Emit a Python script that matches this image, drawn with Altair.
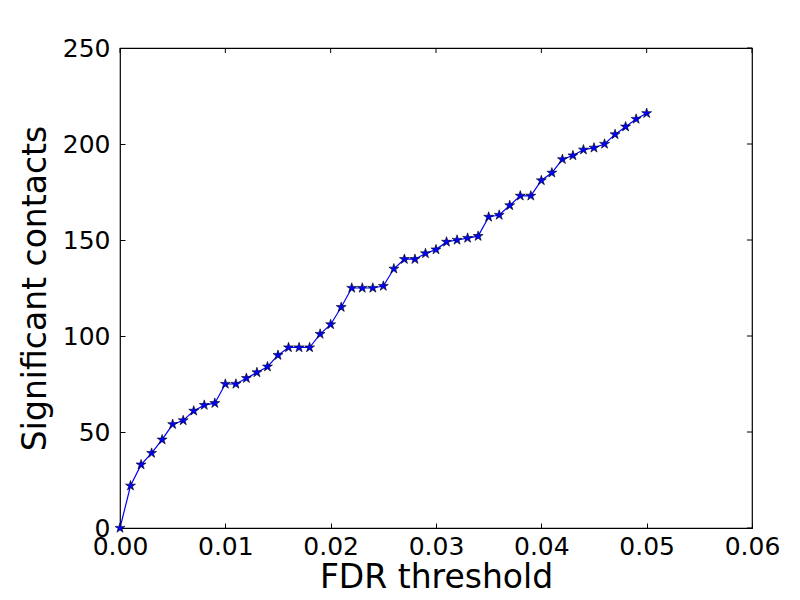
import altair as alt
import pandas as pd

fdr = [round(i * 0.001, 3) for i in range(51)]
contacts = [0, 22, 33, 39, 46, 54, 56, 61, 64, 65, 75, 75, 78, 81, 84, 90, 94, 94, 94, 101,
            106, 115, 125, 125, 125, 126, 135, 140, 140, 143, 145, 149, 150, 151, 152, 162,
            163, 168, 173, 173, 181, 185, 192, 194, 197, 198, 200, 205, 209, 213, 216]
x_ticks = [0.0, 0.01, 0.02, 0.03, 0.04, 0.05, 0.06]
y_ticks = [0, 50, 100, 150, 200, 250]

df = pd.DataFrame({"fdr": fdr, "contacts": contacts})
xt = pd.DataFrame({"t": x_ticks})
yt = pd.DataFrame({"t": y_ticks})

FONT = "DejaVu Sans"
TK = 5
W, H = 632, 480
STAR = ("M0,-1L0.2245,-0.309L0.951,-0.309L0.3633,0.118L0.588,0.809L0,0.382"
        "L-0.588,0.809L-0.3633,0.118L-0.951,-0.309L-0.2245,-0.309Z")

xs = alt.Scale(domain=[0, 0.06], nice=False, zero=False)
ys = alt.Scale(domain=[0, 250], nice=False, zero=False)

x_axis = alt.Axis(values=x_ticks, format=".2f", title="FDR threshold", grid=False,
                  domain=False, tickSize=TK, offset=-TK, labelPadding=6, labelFontSize=25,
                  titleFontSize=33, labelFont=FONT, titleFont=FONT, titleFontWeight="normal",
                  labelColor="black", titleColor="black", tickColor="black", titlePadding=2,
                  labelFlush=False)
y_axis = alt.Axis(values=y_ticks, format="d", title="Significant contacts", grid=False,
                  domain=False, tickSize=TK, offset=-TK, labelPadding=10, labelFontSize=25,
                  titleFontSize=33, labelFont=FONT, titleFont=FONT, titleFontWeight="normal",
                  labelColor="black", titleColor="black", tickColor="black", titlePadding=10,
                  labelFlush=False)

line = alt.Chart(df).mark_line(color="#0000ff", strokeWidth=1.2).encode(
    x=alt.X("fdr:Q", scale=xs, axis=x_axis),
    y=alt.Y("contacts:Q", scale=ys, axis=y_axis),
)
pts = alt.Chart(df).mark_point(shape=STAR, filled=True, color="#0000ff", stroke="black",
                               strokeWidth=0.6, size=110, opacity=1).encode(
    x=alt.X("fdr:Q", scale=xs),
    y=alt.Y("contacts:Q", scale=ys),
)
top_ticks = alt.Chart(xt).mark_rule(color="black", strokeWidth=1).encode(
    x=alt.X("t:Q", scale=xs), y=alt.value(0), y2=alt.value(TK),
)
right_ticks = alt.Chart(yt).mark_rule(color="black", strokeWidth=1).encode(
    y=alt.Y("t:Q", scale=ys), x=alt.value(W), x2=alt.value(W - TK),
)

chart = alt.layer(line, pts, top_ticks, right_ticks).properties(
    width=W, height=H, background="white",
    autosize=alt.AutoSizeParams(type="none"),
    padding={"left": 112, "top": 40, "right": 40, "bottom": 64},
).configure_view(stroke="black", strokeWidth=1.2)

chart.save("out.html", embed_options={"renderer": "svg", "actions": False})
